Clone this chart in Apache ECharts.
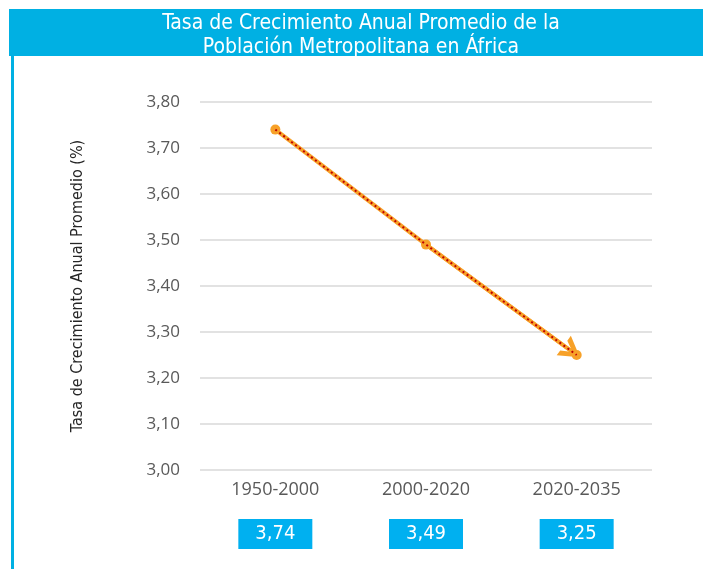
<!DOCTYPE html>
<html><head><meta charset="utf-8">
<script src="https://cdn.jsdelivr.net/npm/echarts@6/dist/echarts.min.js"></script>
<style>html,body{margin:0;padding:0;background:#fff}#c{width:703px;height:569px}</style>
</head><body><div id="c"></div>
<script>
var categories = ['1950-2000', '2000-2020', '2020-2035'];
var values = [3.74, 3.49, 3.25];
var yTicks = [3.0, 3.1, 3.2, 3.3, 3.4, 3.5, 3.6, 3.7, 3.8];

var fmt = function (v) { return v.toFixed(2).replace('.', ','); };
var condensed = '"Liberation Sans Narrow", "DejaVu Sans Condensed", Roboto, sans-serif';
var chart = echarts.init(document.getElementById('c'));
var arrowPath = 'path://M0,20 L10,0 L20,20 L15,20 L10,9 L5,20 Z';
chart.setOption({
  animation: false,
  title: {
    text: 'Tasa de Crecimiento Anual Promedio de la\nPoblación Metropolitana en África',
    left: 356, top: 7, textAlign: 'center',
    textStyle: { color: '#fff', fontSize: 21, fontWeight: 'normal', lineHeight: 24, fontFamily: condensed }
  },
  graphic: [
    { type: 'rect', z: -1, shape: { x: 9, y: 9, width: 694, height: 47 }, style: { fill: '#00B0E3' } },
    { type: 'rect', z: -1, shape: { x: 11, y: 56, width: 3, height: 513 }, style: { fill: '#00B0E3' } }
  ],
  grid: { left: 200, right: 51, top: 102, bottom: 99 },
  xAxis: {
    type: 'category', data: categories, boundaryGap: true,
    axisLine: { show: false }, axisTick: { show: false },
    axisLabel: {
      margin: 27,
      formatter: function (v, i) { return '{cat|' + v + '}\n{box|' + fmt(values[i]) + '}'; },
      rich: {
        cat: { fontSize: 18, color: '#595959', fontFamily: '"Open Sans", sans-serif', lineHeight: 22, padding: [0,0,36,0] },
        box: { fontSize: 20, color: '#fff', fontFamily: condensed, backgroundColor: '#00B0F0', width: 74, height: 30, lineHeight: 30, align: 'center' }
      }
    }
  },
  yAxis: {
    type: 'value', min: 3.0, max: 3.8, interval: 0.1,
    name: 'Tasa de Crecimiento Anual Promedio (%)', nameLocation: 'middle', nameGap: 114, nameRotate: 90,
    nameTextStyle: { fontSize: 16, color: '#262626', fontFamily: condensed },
    axisLabel: { formatter: function (v) { return fmt(v); }, fontSize: 17, color: '#595959', margin: 20, fontFamily: '"Open Sans", sans-serif' },
    splitLine: { lineStyle: { color: '#d9d9d9', width: 1.5 } },
    axisLine: { show: false }, axisTick: { show: false }
  },
  series: [
    {
      type: 'line', data: values, symbol: 'circle', symbolSize: 10,
      lineStyle: { color: '#F7A128', width: 4 }, itemStyle: { color: '#F7A128' },
      markLine: {
        silent: true, symbol: ['none', arrowPath], symbolSize: [24, 20], symbolOffset: [0, [0, 6]],
        lineStyle: { color: '#F7A128', width: 4, type: 'solid' },
        itemStyle: { color: '#F7A128' },
        label: { show: false },
        emphasis: { disabled: true },
        data: [[{ coord: [categories[1], values[1]] }, { coord: [categories[2], values[2]] }]]
      }
    },
    {
      type: 'line', data: values, symbol: 'none', z: 5,
      lineStyle: { color: '#C00000', width: 2, type: [2, 3] }
    }
  ]
});
</script></body></html>
